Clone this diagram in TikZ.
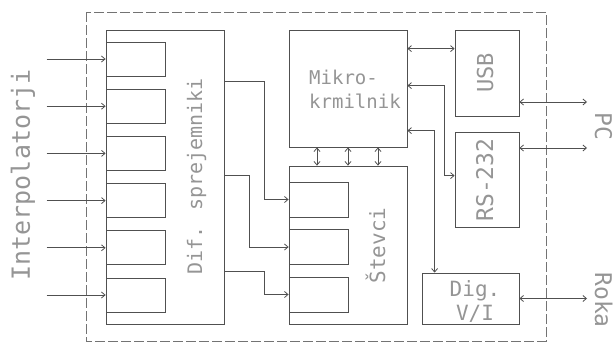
\documentclass[tikz,border=0pt]{standalone}
\usepackage{fontspec}
\usepackage{xcolor}
\usetikzlibrary{arrows.meta,positioning,calc}
\newfontfamily\cadfont{DejaVu Sans Mono}
\definecolor{ink}{HTML}{505050}
\definecolor{lbl}{HTML}{959595}

\begin{document}
\begin{tikzpicture}[x=1pt,y=-1pt,>={Straight Barb[length=3.5pt,width=6pt]},line width=0.8pt]
\tikzset{blk/.style n args={2}{draw=ink,inner sep=0pt,minimum width=#1,minimum height=#2},txt/.style={text=lbl,inner sep=0pt,font=\cadfont\fontsize{#1}{24}\selectfont},arr/.style={->,draw=ink},darr/.style={<->,draw=ink},frame/.style={draw=ink!80,dash pattern=on 10pt off 3pt}}
\useasboundingbox (0,0) rectangle (614,343);
\draw[frame] (86,12) rectangle (546,341);
% receivers
\node[blk={118}{294}] (dif) at (165,177) {};
\foreach \i in {1,...,6} \node[blk={59}{34}] (rx\i) at (135.5,{59+47.2*(\i-1)}) {};
% controller and counters
\node[blk={118}{117}] (mcu) at (348,88.5) {};
\node[blk={118}{158}] (cnt) at (348,245) {};
\foreach \i in {1,2,3} \node[blk={59}{35}] (cnt\i) at (318.5,{199.5+47.5*(\i-1)}) {};
% interfaces
\node[blk={64}{86}] (usb) at (487,73) {};
\node[blk={64}{95}] (rs) at (487,179.5) {};
\node[blk={97}{51}] (dio) at (470.5,298.5) {};
\coordinate (pc1) at (587,102); \coordinate (pc2) at (587,148); \coordinate (rk) at (587,298.5);
% labels
\node[txt=25,rotate=90,anchor=base] (lbin) at (30,175) {Interpolatorji};
\node[txt=20,rotate=90,anchor=base] (lbdif) at (202,176.5) {Dif. sprejemniki};
\node[txt=21,rotate=90,anchor=base] (lbcnt) at (385,245.5) {Števci};
\node[txt=22,rotate=90,anchor=base] (lbusb) at (493,73) {USB};
\node[txt=23,rotate=90,anchor=base] (lbrs) at (493,180) {RS-232};
\node[txt=23,rotate=-90,anchor=base] (lbpc) at (595,126) {PC};
\node[txt=23,rotate=-90,anchor=base] (lbrk) at (595,300) {Roka};
\node[txt=19,align=left] (lbmcu) at (355,89) {Mikro-\\krmilnik};
\node[txt=21,align=center] (lbdio) at (475,301) {Dig.\\V/I};
% connections
\foreach \i in {1,...,6} \draw[arr] ([xshift=-59pt]rx\i.west) -- (rx\i.west);
\draw[arr] ([yshift=-52pt]dif.north east) -- ++(40,0) |- (cnt1.west);
\draw[arr] ([yshift=-146pt]dif.north east) -- ++(25,0) |- (cnt2.west);
\draw[arr] ([yshift=-242pt]dif.north east) -- ++(40,0) |- (cnt3.west);
\foreach \d in {-31,0,30} \draw[darr] ([xshift=\d pt]mcu.south) -- ([xshift=\d pt]cnt.north);
\draw[darr] ([yshift=-19pt]mcu.north east) -- ([yshift=-19pt]usb.north west);
\draw[darr] ([yshift=-56pt]mcu.north east) -- ++(37,0) |- ([yshift=-44pt]rs.north west);
\draw[darr] ([yshift=-101pt]mcu.north east) -| ([xshift=13pt]dio.north west);
\draw[darr] (usb.east |- pc1) -- (pc1);
\draw[darr] (rs.east |- pc2) -- (pc2);
\draw[darr] (dio.east) -- (rk);
\end{tikzpicture}
\end{document}
